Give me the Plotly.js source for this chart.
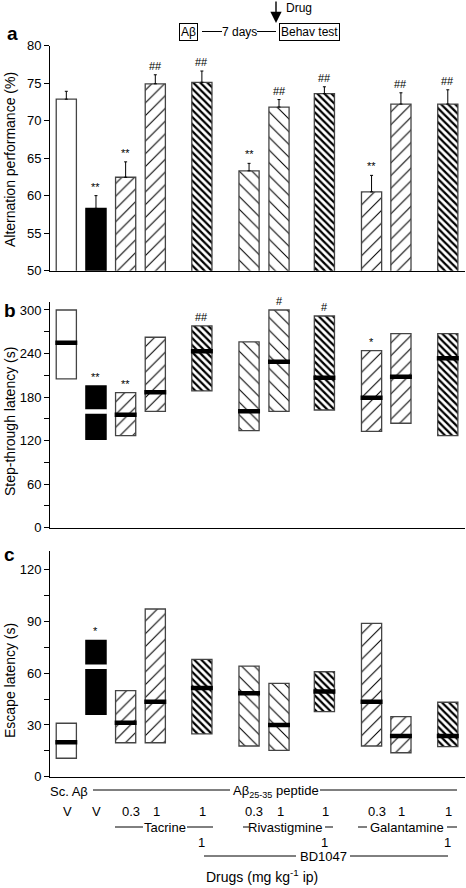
<!DOCTYPE html>
<html>
<head>
<meta charset="utf-8">
<script src="https://cdn.plot.ly/plotly-3.0.1.min.js"></script>
<style>html,body{margin:0;padding:0;background:#fff;}#chart{width:466px;height:888px;}</style>
</head>
<body>
<div id="chart"></div>
<script>
// ---------------- DATA ----------------
const groups = ['Sc.Aβ V','Aβ V','Tacrine 0.3','Tacrine 1','Tacrine 1 + BD1047 1',
  'Rivastigmine 0.3','Rivastigmine 1','Rivastigmine 1 + BD1047 1',
  'Galantamine 0.3','Galantamine 1','Galantamine 1 + BD1047 1'];
const doseLabels = ['V','V','0.3','1','1','0.3','1','1','0.3','1','1'];
const bdLabels = ['','','','','1','','','1','','','1'];

// (a) alternation performance (%), mean and SEM
const altMean = [72.85, 58.3, 62.45, 74.9, 75.1, 63.3, 71.8, 73.6, 60.5, 72.2, 72.2];
const altSem  = [1.05, 1.7, 2.05, 1.2, 1.5, 1.0, 1.0, 0.9, 2.2, 1.5, 1.9];
const altSig  = ['', '**', '**', '##', '##', '**', '##', '##', '**', '##', '##'];

// (b) step-through latency (s): median and interquartile range
const stMedian = [255, 160, 155.7, 186.6, 243, 160.4, 228.8, 206.7, 179, 208, 233.4];
const stLow    = [205, 121.8, 126.8, 160.4, 188.4, 133.7, 160.4, 162.2, 132.8, 143.9, 126.8];
const stHigh   = [300, 195.3, 186, 262.4, 278, 256, 300, 291.7, 244, 267.3, 267.3];
const stSig    = ['', '**', '**', '', '##', '', '#', '#', '*', '', ''];

// (c) escape latency (s): median and interquartile range
const escMedian = [20, 63.8, 31.3, 43.5, 51.5, 48.4, 30, 49.5, 43.5, 23.6, 23.6];
const escLow    = [10.7, 36.2, 19.7, 19.7, 24.8, 17.8, 15.3, 37.7, 17.8, 13.9, 17.4];
const escHigh   = [31, 79.1, 49.9, 97.3, 68.1, 64.2, 54.2, 60.9, 89, 34.8, 43.2];
const escSig    = ['', '*', '', '', '', '', '', '', '', '', ''];

// ---------------- LAYOUT / STYLE ----------------
const W = 466, H = 888;
const px = x => x / W;
const py = y => 1 - y / H;
const xPos = [0, 1, 2, 3, 4.57, 6.16, 7.17, 8.70, 10.29, 11.28, 12.86];
const barW = 0.68;
const fillStyle = ['open','solid','fwd','fwd','dense','back','back','dense','fwd','fwd','dense'];
const styleMap = {
  open:  {color:'white', line:'#444'},
  solid: {color:'black', line:'black'},
  fwd:   {color:'white', line:'#444', pattern:{shape:'/', size:9, solidity:0.12}},
  back:  {color:'white', line:'#444', pattern:{shape:'\\', size:9, solidity:0.12}},
  dense: {color:'white', line:'#444', pattern:{shape:'\\', size:5, solidity:0.45}}
};
const FONT = 'Liberation Sans, Arial, Helvetica, sans-serif';

function markerFor(style) {
  const s = styleMap[style];
  const m = {color: s.color, line: {color: s.line, width: 1.3}};
  if (s.pattern) m.pattern = Object.assign({fgcolor:'black', bgcolor:'white', fillmode:'replace'}, s.pattern);
  return m;
}
function idxOf(style) { return fillStyle.map((s, i) => s === style ? i : -1).filter(i => i >= 0); }
const pick = (arr, idx) => idx.map(i => arr[i]);

const traces = [];
Object.keys(styleMap).forEach(style => {
  const idx = idxOf(style);
  traces.push({type:'bar', x: pick(xPos, idx), y: pick(altMean, idx), width: barW,
    xaxis:'x', yaxis:'y', marker: markerFor(style), hoverinfo:'skip',
    error_y: {type:'data', symmetric:false, array: pick(altSem, idx), arrayminus: idx.map(() => 0),
              color:'black', thickness:1, width:1.5}});
  traces.push({type:'bar', x: pick(xPos, idx), base: pick(stLow, idx),
    y: idx.map(i => stHigh[i] - stLow[i]), width: barW, xaxis:'x2', yaxis:'y2',
    marker: markerFor(style), hoverinfo:'skip'});
  traces.push({type:'bar', x: pick(xPos, idx), base: pick(escLow, idx),
    y: idx.map(i => escHigh[i] - escLow[i]), width: barW, xaxis:'x3', yaxis:'y3',
    marker: markerFor(style), hoverinfo:'skip'});
});

function medianLines(med, xa, ya, solid) {
  const xs = [], ys = [];
  med.forEach((m, i) => {
    if ((fillStyle[i] === 'solid') !== solid) return;
    xs.push(xPos[i] - barW/2 - 0.03, xPos[i] + barW/2 + 0.03, null);
    ys.push(m, m, null);
  });
  return {type:'scatter', mode:'lines', x: xs, y: ys, xaxis: xa, yaxis: ya,
    line: {color: solid ? 'white' : 'black', width: 4.5}, hoverinfo:'skip'};
}
traces.push(medianLines(stMedian, 'x2', 'y2', false), medianLines(stMedian, 'x2', 'y2', true),
            medianLines(escMedian, 'x3', 'y3', false), medianLines(escMedian, 'x3', 'y3', true));

const xBase = {domain:[px(50), px(465)], range:[-0.55, 13.44], showticklabels:false, ticks:'',
  showline:true, linecolor:'black', linewidth:1, showgrid:false, zeroline:false, fixedrange:true};
const yBase = {ticks:'outside', ticklen:5, tickwidth:1, tickcolor:'black', showline:true,
  linecolor:'black', linewidth:1, showgrid:false, zeroline:false, tickfont:{size:13}, fixedrange:true};

const annotations = [];
const shapes = [];
function txt(text, x, y, opts) {
  annotations.push(Object.assign({text, x: px(x), y: py(y), xref:'paper', yref:'paper',
    showarrow:false, xanchor:'center', yanchor:'middle', font:{size:13}}, opts || {}));
}
function hline(x0, x1, y) {
  shapes.push({type:'line', xref:'paper', yref:'paper', x0: px(x0), x1: px(x1), y0: py(y), y1: py(y),
    line:{color:'black', width:1}});
}

// significance marks
function sigMarks(sig, topVals, xa, ya) {
  sig.forEach((s, i) => {
    if (!s) return;
    annotations.push({text: s, x: xPos[i], y: topVals[i], xref: xa, yref: ya, showarrow:false,
      yanchor:'bottom', xanchor:'center', yshift: 1, font:{size:11}});
  });
}
sigMarks(altSig, altMean.map((m, i) => m + altSem[i]), 'x', 'y');
sigMarks(stSig, stHigh, 'x2', 'y2');
sigMarks(escSig, escHigh, 'x3', 'y3');

// panel letters
txt('<b>a</b>', 12, 34, {font:{size:19}});
txt('<b>b</b>', 10, 310, {font:{size:19}});
txt('<b>c</b>', 9, 554, {font:{size:19}});

// y-axis titles
txt('Alternation performance (%)', 10, 160, {textangle:-90, font:{size:14}});
txt('Step-through latency (s)', 10, 422, {textangle:-90, font:{size:14}});
txt('Escape latency (s)', 10, 681, {textangle:-90, font:{size:14}});

// protocol header
annotations.push({text:'', x: px(276), y: py(23), xref:'paper', yref:'paper', showarrow:true,
  ax:0, ay:-23, arrowhead:2, arrowsize:1.6, arrowwidth:1.4, arrowcolor:'black'});
txt('Drug', 284, 8, {xanchor:'left', font:{size:12}});
txt('Aβ', 188.5, 31.5, {bordercolor:'black', borderwidth:1, borderpad:1, font:{size:12}});
hline(202, 222, 31.5);
txt('7 days', 239.5, 31.5, {font:{size:12}});
hline(257, 276, 31.5);
txt('Behav test', 309.5, 31.5, {bordercolor:'black', borderwidth:1, borderpad:1, font:{size:12}});

// bottom labels
txt('Sc. Aβ', 69, 791);
hline(93, 230, 790);
txt('Aβ<sub>25-35</sub> peptide', 275.5, 791);
hline(320, 457, 790);
doseLabels.forEach((d, i) => {
  annotations.push({text: d, x: xPos[i], y: py(811), xref:'x3', yref:'paper', showarrow:false,
    xanchor:'center', yanchor:'middle', xshift: d === '0.3' ? 5 : 1, font:{size:13}});
});
bdLabels.forEach((d, i) => {
  if (!d) return;
  annotations.push({text: d, x: xPos[i], y: py(842), xref:'x3', yref:'paper', showarrow:false,
    xanchor:'center', yanchor:'middle', font:{size:13}});
});
hline(115, 143, 827); txt('Tacrine', 164.5, 827); hline(187, 213, 827);
hline(243, 249, 827); txt('Rivastigmine', 285, 827); hline(325, 333, 827);
hline(358, 367, 827); txt('Galantamine', 406.5, 827); hline(447, 457, 827);
hline(204, 296, 856); txt('BD1047', 323, 856); hline(350, 448, 856);
txt('Drugs (mg kg<sup>-1</sup> ip)', 262, 876, {font:{size:14}});

const layout = {
  width: W, height: H, margin:{l:0, r:0, t:0, b:0}, showlegend:false,
  paper_bgcolor:'white', plot_bgcolor:'white', bargap:0, barmode:'overlay',
  font:{family: FONT, size:13, color:'black'},
  xaxis: Object.assign({}, xBase, {anchor:'y'}),
  xaxis2: Object.assign({}, xBase, {anchor:'y2'}),
  xaxis3: Object.assign({}, xBase, {anchor:'y3'}),
  yaxis: Object.assign({}, yBase, {anchor:'x', domain:[py(270.7), py(45.5)], range:[50, 80], dtick:5, tick0:50}),
  yaxis2: Object.assign({}, yBase, {anchor:'x2', domain:[py(527.7), py(302)], range:[0, 311], dtick:60, tick0:0,
    minor:{dtick:30, ticks:'outside', ticklen:5, tickcolor:'black'}}),
  yaxis3: Object.assign({}, yBase, {anchor:'x3', domain:[py(776.7), py(550.9)], range:[0, 131], dtick:30, tick0:0,
    minor:{dtick:15, ticks:'outside', ticklen:5, tickcolor:'black'}}),
  annotations, shapes
};

Plotly.newPlot('chart', traces, layout, {displayModeBar:false, staticPlot:true});
</script>
</body>
</html>
